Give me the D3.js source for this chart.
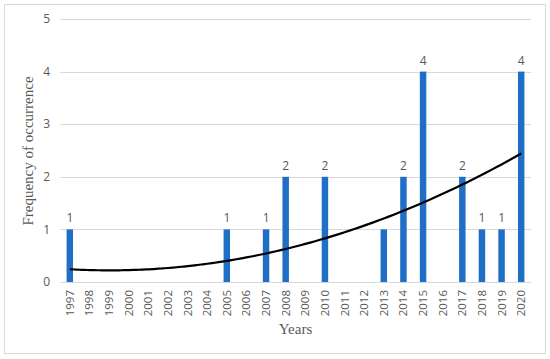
<!DOCTYPE html>
<html>
<head>
<meta charset="utf-8">
<script src="https://cdn.jsdelivr.net/npm/d3@7"></script>
<style>
  body { margin: 0; background: #fff; }
</style>
</head>
<body>
<div id="chart"></div>
<script>
const years = ["1997","1998","1999","2000","2001","2002","2003","2004","2005","2006","2007","2008",
  "2009","2010","2011","2012","2013","2014","2015","2016","2017","2018","2019","2020"];
const counts = [1,0,0,0,0,0,0,0,1,0,1,2,0,2,0,0,1,2,4,0,2,1,1,4];
// data labels shown in the chart (2013 has none)
const labelYears = ["1997","2005","2007","2008","2010","2014","2015","2017","2018","2019","2020"];
const yTicks = [0,1,2,3,4,5];

const W = 550, H = 359;
const margin = { top: 19, right: 19, bottom: 77, left: 60 };
const width = W - margin.left - margin.right,
  height = H - margin.top - margin.bottom;

const svg = d3.select("#chart").append("svg")
  .attr("width", W)
  .attr("height", H);

// outer frame
svg.append("rect")
  .attr("x", 4.5).attr("y", 4.5)
  .attr("width", 541).attr("height", 349)
  .attr("fill", "#fff")
  .attr("stroke", "#d9d9d9");

const g = svg.append("g")
  .attr("transform", `translate(${margin.left},${margin.top})`);

const x = d3.scaleBand().domain(years).range([0, width]).paddingInner(0.67).paddingOuter(0.335);
const y = d3.scaleLinear().domain([0, 5]).range([height, 0]);

// grid
g.selectAll(".grid")
  .data(yTicks)
  .join("line")
  .attr("x1", 0).attr("x2", width)
  .attr("y1", d => Math.round(y(d)) + 0.5).attr("y2", d => Math.round(y(d)) + 0.5)
  .attr("stroke", "#d9d9d9");

// y axis labels
g.selectAll(".ytick")
  .data(yTicks)
  .join("text")
  .attr("x", -10)
  .attr("y", d => y(d))
  .attr("dy", "0.35em")
  .attr("text-anchor", "end")
  .style("font", "12px 'Open Sans', sans-serif")
  .style("fill", "#595959")
  .text(d => d);

// bars
g.selectAll(".bar")
  .data(counts)
  .join("rect")
  .attr("x", (d, i) => x(years[i]))
  .attr("width", x.bandwidth())
  .attr("y", d => y(d))
  .attr("height", d => height - y(d))
  .attr("fill", "#1f6fc6");

// data labels
g.selectAll(".lbl")
  .data(counts.map((d, i) => ({ v: d, yr: years[i] })).filter(d => labelYears.includes(d.yr)))
  .join("text")
  .attr("x", d => x(d.yr) + x.bandwidth() / 2)
  .attr("y", d => y(d.v) - 7)
  .attr("text-anchor", "middle")
  .style("font", "12px 'Open Sans', sans-serif")
  .style("fill", "#595959")
  .text(d => d.v);

// polynomial (order 2) trendline, least squares on the data
const n = counts.length;
const xs = counts.map((d, i) => i + 1);
const S = k => d3.sum(xs, v => Math.pow(v, k));
const T = k => d3.sum(xs, (v, i) => Math.pow(v, k) * counts[i]);
function solve3(A, b) {
  const M = A.map((r, i) => [...r, b[i]]);
  for (let c = 0; c < 3; c++) {
    let p = c;
    for (let r = c + 1; r < 3; r++) if (Math.abs(M[r][c]) > Math.abs(M[p][c])) p = r;
    [M[c], M[p]] = [M[p], M[c]];
    for (let r = 0; r < 3; r++) {
      if (r === c) continue;
      const f = M[r][c] / M[c][c];
      for (let k = c; k < 4; k++) M[r][k] -= f * M[c][k];
    }
  }
  return M.map((r, i) => r[3] / r[i]);
}
const [a0, a1, a2] = solve3(
  [[n, S(1), S(2)], [S(1), S(2), S(3)], [S(2), S(3), S(4)]],
  [T(0), T(1), T(2)]
);
const trend = d3.range(1, n + 0.001, 0.25).map(t => [t, a0 + a1 * t + a2 * t * t]);
const xc = t => x(years[0]) + x.bandwidth() / 2 + (t - 1) * x.step();

g.append("path")
  .datum(trend)
  .attr("fill", "none")
  .attr("stroke", "#000")
  .attr("stroke-width", 2.2)
  .attr("d", d3.line().x(d => xc(d[0])).y(d => y(d[1])).curve(d3.curveMonotoneX));

// x labels (rotated)
g.selectAll(".xtick")
  .data(years)
  .join("text")
  .attr("transform", d => `translate(${x(d) + x.bandwidth() / 2},${height + 8}) rotate(-90)`)
  .attr("text-anchor", "end")
  .attr("dy", "0.35em")
  .style("font", "11.5px 'Open Sans', sans-serif")
  .style("fill", "#595959")
  .text(d => d);

// axis titles
svg.append("text")
  .attr("x", margin.left + width / 2)
  .attr("y", 334)
  .attr("text-anchor", "middle")
  .style("font", "15px 'Liberation Serif', serif")
  .style("fill", "#595959")
  .text("Years");

svg.append("text")
  .attr("transform", `translate(33,151) rotate(-90)`)
  .attr("text-anchor", "middle")
  .style("font", "15px 'Liberation Serif', serif")
  .style("fill", "#595959")
  .text("Frequency of occurrence");
</script>
</body>
</html>
